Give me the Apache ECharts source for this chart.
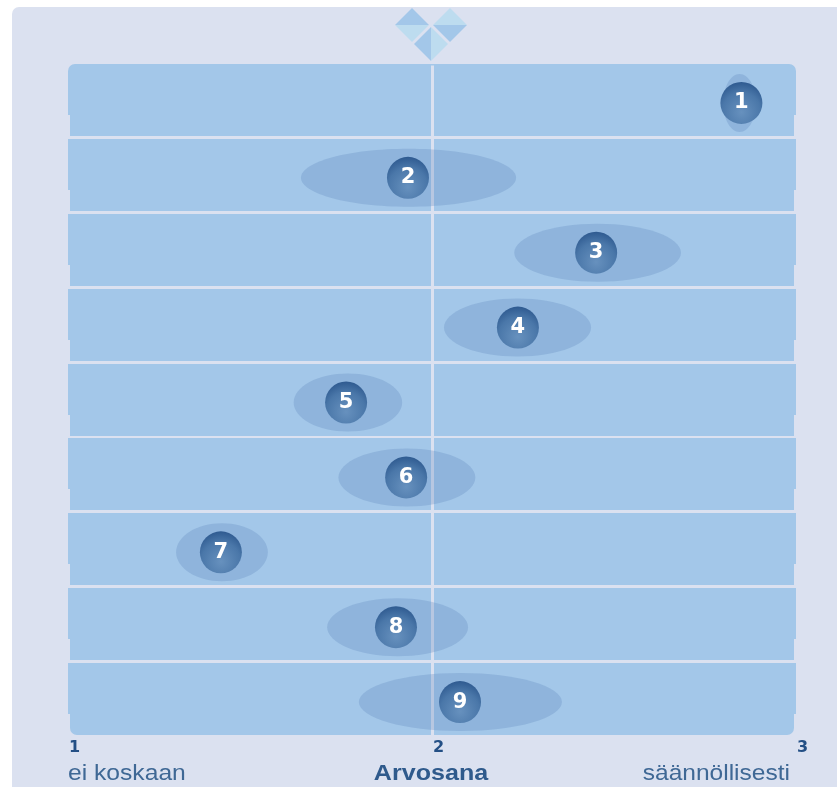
<!DOCTYPE html>
<html>
<head>
<meta charset="utf-8">
<script src="https://cdn.jsdelivr.net/npm/echarts@6/dist/echarts.min.js"></script>
<style>
  html, body { margin: 0; padding: 0; background: #fff; }
  #chart { width: 837px; height: 787px; }
</style>
</head>
<body>
<div id="chart"></div>
<script>
// question numbers, top to bottom
const questions = ['1', '2', '3', '4', '5', '6', '7', '8', '9'];
// mean rating of each question
const means = [2.85, 1.934, 2.451, 2.236, 1.764, 1.929, 1.42, 1.901, 2.077];
// spread ellipse ends
const spreadLow = [2.80, 1.64, 2.226, 2.033, 1.62, 1.743, 1.297, 1.712, 1.799];
const spreadHigh = [2.89, 2.231, 2.684, 2.437, 1.918, 2.119, 1.549, 2.099, 2.357];
const tickValues = [1, 2, 3];
const leftLabel = 'ei koskaan';
const rightLabel = 'säännöllisesti';
const axisTitle = 'Arvosana';

const panel = '#dbe1f0';
const rowBlue = '#a3c7e9';
const paleBlue = '#bddcef';
const textBlue = '#3f6895';
const fontName = 'Liberation Sans';

function diamond(cx, cy, r, first, second, vertical) {
  const a = vertical
    ? [[cx, cy - r], [cx, cy + r], [cx - r, cy]]
    : [[cx - r, cy], [cx + r, cy], [cx, cy - r]];
  const b = vertical
    ? [[cx, cy - r], [cx, cy + r], [cx + r, cy]]
    : [[cx - r, cy], [cx + r, cy], [cx, cy + r]];
  return [
    { type: 'polygon', shape: { points: a }, style: { fill: first } },
    { type: 'polygon', shape: { points: b }, style: { fill: second } }
  ];
}

// the reference text is set wide, so stretch it sideways
function wideText(text, x, align, bold, fill, stretch) {
  return {
    type: 'text',
    x: x,
    y: 785,
    scaleX: stretch,
    style: {
      text: text,
      fill: fill,
      align: align,
      verticalAlign: 'bottom',
      font: (bold ? 'bold ' : '') + '22px "' + fontName + '"'
    }
  };
}

const chart = echarts.init(document.getElementById('chart'));
chart.setOption({
  animation: false,
  backgroundColor: '#fff',
  graphic: {
    elements: [
      { type: 'rect', z: -10, shape: { x: 12, y: 7, width: 840, height: 800, r: 7 }, style: { fill: panel } },
      ...diamond(412, 25, 17, rowBlue, paleBlue, false),
      ...diamond(450, 25, 17, paleBlue, rowBlue, false),
      ...diamond(431, 44, 17, rowBlue, paleBlue, true),
      wideText(leftLabel, 68, 'left', false, textBlue, 1.12),
      wideText(rightLabel, 790, 'right', false, textBlue, 1.115),
      wideText(axisTitle, 431, 'center', true, '#2f5a8c', 1.14)
    ]
  },
  grid: { left: 68, right: 41, top: 65.5, height: 674, outerBoundsMode: 'none' },
  xAxis: {
    type: 'value',
    min: 1,
    max: 3,
    interval: 1,
    axisLine: { show: false },
    axisTick: { show: false },
    splitLine: { show: false },
    axisLabel: {
      align: 'left',
      margin: 0,
      padding: [0, 0, 0, 1],
      color: '#234f85',
      fontFamily: 'DejaVu Sans',
      fontWeight: 'bold',
      fontSize: 16,
      customValues: tickValues
    }
  },
  yAxis: {
    type: 'category',
    data: questions,
    inverse: true,
    show: false
  },
  series: [
    {
      name: 'rows',
      type: 'custom',
      z: 1,
      silent: true,
      data: questions.map((q, i) => [i]),
      encode: { y: 0 },
      renderItem(params, api) {
        const i = api.value(0);
        const left = api.coord([1, i]);
        const right = api.coord([3, i]);
        const top = Math.round(left[1] - 39);
        const last = questions.length - 1;
        return {
          type: 'group',
          children: [
            {
              type: 'rect',
              shape: { x: left[0], y: top, width: right[0] - left[0], height: 51, r: i === 0 ? [7, 7, 0, 0] : 0 },
              style: { fill: rowBlue }
            },
            {
              type: 'rect',
              shape: { x: left[0] + 2, y: top + 51, width: right[0] - left[0] - 4, height: 21, r: i === last ? [0, 0, 7, 7] : 0 },
              style: { fill: rowBlue }
            }
          ]
        };
      },
      markLine: {
        silent: true,
        z: 2,
        symbol: 'none',
        label: { show: false },
        lineStyle: { color: panel, width: 3, type: 'solid' },
        data: [{ xAxis: 2 }]
      }
    },
    {
      name: 'spread',
      type: 'custom',
      z: 3,
      silent: true,
      data: questions.map((q, i) => [spreadLow[i], spreadHigh[i], i]),
      encode: { x: [0, 1], y: 2 },
      renderItem(params, api) {
        const a = api.coord([api.value(0), api.value(2)]);
        const b = api.coord([api.value(1), api.value(2)]);
        return {
          type: 'ellipse',
          shape: { cx: (a[0] + b[0]) / 2, cy: a[1], rx: (b[0] - a[0]) / 2, ry: 29 },
          style: { fill: 'rgba(90,128,184,0.27)' }
        };
      }
    },
    {
      name: 'mean',
      type: 'scatter',
      z: 4,
      symbol: 'circle',
      symbolSize: 42,
      data: questions.map((q, i) => [means[i], i]),
      itemStyle: {
        opacity: 1,
        color: {
          type: 'radial',
          x: 0.5,
          y: 0.72,
          r: 0.78,
          colorStops: [
            { offset: 0, color: '#6791be' },
            { offset: 0.6, color: '#4a77a9' },
            { offset: 1, color: '#28538a' }
          ]
        }
      },
      label: {
        show: true,
        position: 'inside',
        formatter: p => questions[p.dataIndex],
        color: '#fff',
        fontFamily: 'DejaVu Sans',
        fontWeight: 'bold',
        fontSize: 21
      }
    }
  ]
});
</script>
</body>
</html>
